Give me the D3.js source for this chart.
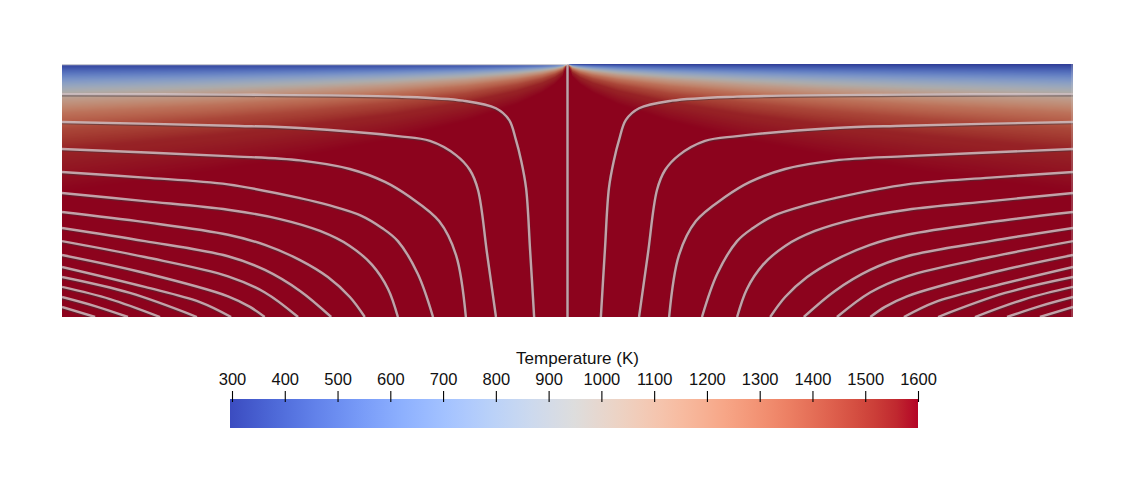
<!DOCTYPE html>
<html><head><meta charset="utf-8">
<script src="https://cdn.jsdelivr.net/npm/d3@7"></script>
<style>html,body{margin:0;padding:0;background:#fff;} svg{display:block;}</style>
</head><body>
<svg id="chart" width="1148" height="477"></svg>
<script>
// ---------------- data ----------------
// distance from the ridge axis (km) at which isotherm depths were read
const distanceKm = [0, 2, 5, 10, 20, 40, 70, 100, 140, 200];
// depth (km) of each isotherm at those distances
const iso500DepthKm  = [0, 0.31, 0.50, 0.70, 0.99, 1.40, 1.86, 2.22, 2.63, 3.14];
const iso700DepthKm  = [0, 0.64, 1.01, 1.43, 2.03, 2.87, 3.80, 4.54, 5.38, 6.42];
const iso900DepthKm  = [0, 1.00, 1.58, 2.23, 3.15, 4.47, 5.90, 7.06, 8.37, 9.98];
const iso1100DepthKm = [0, 1.40, 2.21, 3.13, 4.42, 6.26, 8.28, 9.90, 11.7, 14.0];
const iso1300DepthKm = [0, 1.94, 3.07, 4.34, 6.13, 8.68, 11.5, 13.7, 16.3, 19.4];
const iso1450DepthKm = [0, 2.58, 4.08, 5.77, 8.16, 11.6, 15.3, 18.3, 21.6, 25.8];
const iso1550DepthKm = [0, 3.36, 5.31, 7.51, 10.6, 15.0, 19.9, 23.7, 28.1, 33.6];
const iso1600DepthKm = [0, 5.0, 8.0, 11.3, 15.9, 22.5, 29.8, 35.6, 42.2, 50.4];
const surfaceTempK = 300;
const isothermLevelsK = [500, 700, 900, 1100, 1300, 1450, 1550, 1600];

// streamlines (left half, [x km, depth km]); the right half is the mirror image
const streamline1  = [[-200,11.9],[-133.5,12.1],[-67.1,12.9],[-41.3,14.5],[-28.3,17.5],[-23.1,22.1],[-20.4,30.0],[-18.4,37.9],[-16.4,49.0],[-14.8,73.5],[-13.2,100]];
const streamline2  = [[-200,22.9],[-133.5,24.4],[-105.8,25.3],[-67.1,28.5],[-54.4,30.4],[-44.1,36.0],[-38.6,41.9],[-35.4,49.8],[-31.8,75.1],[-28.3,100]];
const streamline3  = [[-200,33.6],[-134.3,36.4],[-105.8,38.1],[-86.1,41.5],[-72.2,46.6],[-62.3,52.6],[-50.8,62.1],[-44.1,75.5],[-40.2,100]];
const streamline4  = [[-200,42.7],[-167.2,44.9],[-134.3,47.6],[-105.8,53.0],[-94.0,55.9],[-81.7,59.9],[-73.4,64.8],[-67.1,70.0],[-59.2,83.0],[-53.2,100]];
const streamline5  = [[-200,51.0],[-167.2,54.2],[-134.3,57.6],[-113.7,61.3],[-97.9,66.0],[-86.1,71.9],[-77.3,79.4],[-71.0,88.9],[-67.1,100]];
const streamline6  = [[-200,58.5],[-167.2,62.5],[-134.3,67.5],[-119.7,71.5],[-105.8,77.5],[-94.8,84.2],[-86.1,92.1],[-80.2,100]];
const streamline7  = [[-200,64.8],[-167.2,70.0],[-134.3,76.0],[-119.7,81.4],[-105.8,89.7],[-93.5,100]];
const streamline8  = [[-200,70.0],[-167.2,76.3],[-134.3,83.9],[-119.7,90.3],[-106.6,100]];
const streamline9  = [[-200,75.5],[-167.2,82.6],[-134.3,91.8],[-125.6,96.0],[-119.8,100]];
const streamline10 = [[-200,80.2],[-167.2,88.1],[-145.4,94.1],[-133.1,100]];
const streamline11 = [[-200,84.2],[-173.1,90.5],[-146.6,100]];
const streamline12 = [[-200,88.1],[-181.0,92.9],[-161.2,100]];
const streamline13 = [[-200,92.1],[-186.9,95.7],[-173.9,100]];
const streamline14 = [[-200,96.0],[-186.9,100]];
const ridgeAxis    = [[0,0],[0,100]];

const colorbarTicks = [300,400,500,600,700,800,900,1000,1100,1200,1300,1400,1500,1600];
const colorbarTitle = "Temperature (K)";

// Cool-to-Warm colour map stops (fraction, r, g, b)
const coolWarm = [
 [0,59,76,192],[0.03125,68,90,204],[0.0625,77,104,215],[0.09375,87,117,225],[0.125,98,130,234],
 [0.15625,108,142,241],[0.1875,119,154,247],[0.21875,130,165,251],[0.25,141,176,254],[0.28125,152,185,255],
 [0.3125,163,194,255],[0.34375,174,201,253],[0.375,184,208,249],[0.40625,194,213,244],[0.4375,204,217,238],
 [0.46875,213,219,230],[0.5,221,221,221],[0.53125,229,216,209],[0.5625,236,211,197],[0.59375,241,204,185],
 [0.625,245,196,173],[0.65625,247,187,160],[0.6875,247,177,148],[0.71875,247,166,135],[0.75,244,154,123],
 [0.78125,241,141,111],[0.8125,236,127,99],[0.84375,229,112,88],[0.875,222,96,77],[0.90625,213,80,66],
 [0.9375,203,62,56],[0.96875,192,40,47],[1,180,4,38]];

// ---------------- layout ----------------
const svg = d3.select("#chart");
const plot = {x0: 62, x1: 1073, y0: 64, y1: 317};
const x = d3.scaleLinear([-200, 200], [plot.x0, plot.x1]);
const z = d3.scaleLinear([0, 100], [plot.y0, plot.y1]);
const tMin = 300, tMax = 1600;
const color = d3.scaleLinear()
  .domain(coolWarm.map(s => tMin + (tMax - tMin) * s[0]))
  .range(coolWarm.map(s => d3.rgb(s[1], s[2], s[3])))
  .interpolate(d3.interpolateRgb).clamp(true);

// ---------------- temperature field ----------------
const isoTable = [iso500DepthKm, iso700DepthKm, iso900DepthKm, iso1100DepthKm,
                  iso1300DepthKm, iso1450DepthKm, iso1550DepthKm, iso1600DepthKm];
const isoScales = isoTable.map(arr => d3.scaleLinear(distanceKm, arr).clamp(true));
const W = plot.x1 - plot.x0, H = plot.y1 - plot.y0;
const canvas = document.createElement("canvas");
canvas.width = W; canvas.height = H;
const ctx = canvas.getContext("2d");
const img = ctx.createImageData(W, H);
const shade = 0.775;
const lut = [];
for (let t = tMin; t <= tMax; t++) { const c = d3.rgb(color(t)); lut.push([c.r*shade, c.g*shade, c.b*shade]); }
for (let i = 0; i < W; i++) {
  const d = Math.abs(x.invert(plot.x0 + i + 0.5));
  const depths = [0];
  isoScales.forEach(s => depths.push(Math.max(s(d), depths[depths.length-1] + 1e-4)));
  const prof = d3.scaleLinear(depths, [surfaceTempK, ...isothermLevelsK]).clamp(true);
  for (let j = 0; j < H; j++) {
    const T = prof(z.invert(plot.y0 + j + 0.5));
    const c = lut[Math.max(0, Math.min(lut.length-1, Math.round(T - tMin)))];
    const k = (j * W + i) * 4;
    img.data[k] = c[0]; img.data[k+1] = c[1]; img.data[k+2] = c[2]; img.data[k+3] = 255;
  }
}
ctx.putImageData(img, 0, 0);
svg.append("image").attr("x", plot.x0).attr("y", plot.y0).attr("width", W).attr("height", H)
  .attr("preserveAspectRatio", "none").attr("href", canvas.toDataURL());

// ---------------- streamlines ----------------
svg.append("clipPath").attr("id", "clip").append("rect")
  .attr("x", plot.x0).attr("y", plot.y0).attr("width", W).attr("height", H);
const leftLines = [streamline1, streamline2, streamline3, streamline4, streamline5, streamline6, streamline7,
                   streamline8, streamline9, streamline10, streamline11, streamline12, streamline13, streamline14];
const allLines = [];
leftLines.forEach(l => { allLines.push(l); allLines.push(l.map(p => [-p[0], p[1]]).reverse()); });
allLines.push(ridgeAxis);
const line = d3.line().x(p => x(p[0])).y(p => z(p[1])).curve(d3.curveCatmullRom.alpha(0.5));
const g = svg.append("g").attr("clip-path", "url(#clip)");
g.selectAll("path.under").data(allLines).join("path").attr("class", "under")
  .attr("d", line).attr("fill", "none").attr("stroke", "rgba(70,55,60,0.55)")
  .attr("stroke-width", 3.1).attr("transform", "translate(0,0.8)");
g.selectAll("path.over").data(allLines).join("path").attr("class", "over")
  .attr("d", line).attr("fill", "none").attr("stroke", "rgba(228,214,216,0.72)")
  .attr("stroke-width", 2.4);
// surface / edge outline traces
g.append("line").attr("x1", x(-200)).attr("x2", x(0)).attr("y1", z(0) + 0.5).attr("y2", z(0) + 0.5)
  .attr("stroke", "rgba(215,215,215,0.9)").attr("stroke-width", 1.5);
g.append("line").attr("x1", x(200) - 1).attr("x2", x(200) - 1).attr("y1", z(0)).attr("y2", z(100))
  .attr("stroke", "rgba(210,205,205,0.5)").attr("stroke-width", 1);

// ---------------- colour bar ----------------
const cb = d3.scaleLinear([tMin, tMax], [232, 918]);
const defs = svg.append("defs");
const grad = defs.append("linearGradient").attr("id", "cbgrad").attr("x1", "0%").attr("x2", "100%");
coolWarm.forEach(s => grad.append("stop").attr("offset", (s[0]*100) + "%").attr("stop-color", d3.rgb(s[1], s[2], s[3])));
svg.append("rect").attr("x", 230).attr("y", 399).attr("width", 688).attr("height", 29).attr("fill", "url(#cbgrad)");
const axis = d3.axisTop(cb).tickValues(colorbarTicks).tickFormat(d3.format("d")).tickSize(11).tickPadding(6.5);
const ag = svg.append("g").attr("transform", "translate(0,402)").call(axis);
ag.select(".domain").remove();
ag.selectAll(".tick line").attr("stroke", "#000").attr("stroke-width", 1.1);
ag.selectAll(".tick text").attr("fill", "#111").style("font-family", "'Liberation Sans', Arial, sans-serif").style("font-size", "16.5px");
svg.append("text").attr("x", 577.5).attr("y", 364).attr("text-anchor", "middle")
  .style("font-family", "'Liberation Sans', Arial, sans-serif").style("font-size", "17px").attr("fill", "#111")
  .text(colorbarTitle);
</script>
</body></html>
